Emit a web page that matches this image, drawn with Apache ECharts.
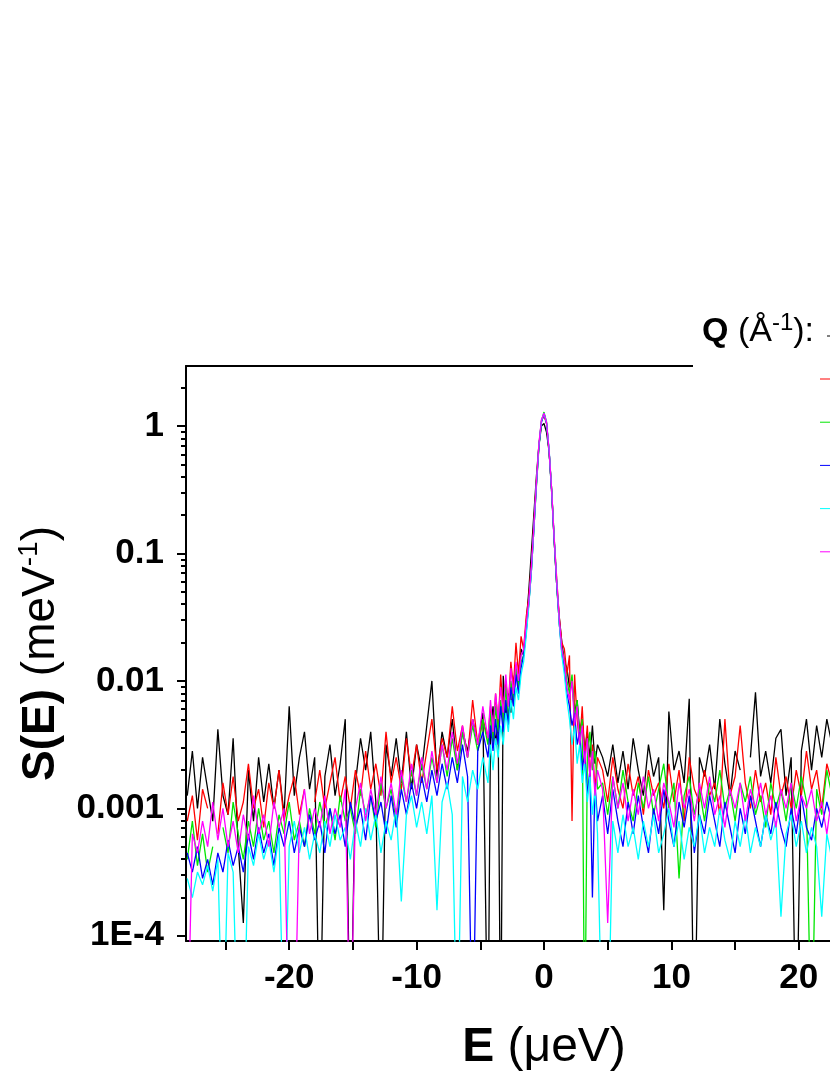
<!DOCTYPE html>
<html><head><meta charset="utf-8">
<script src="https://cdn.jsdelivr.net/npm/echarts@6/dist/echarts.min.js"></script>
<style>html,body{margin:0;padding:0;background:#fff}#c{width:830px;height:1075px}</style>
</head><body><div id="c"></div>
<script>
// Energy transfer E (µeV)
const E = [
-28,-27.6,-27.2,-26.8,-26.4,-26,-25.6,-25.2,-24.8,-24.4,
-24,-23.6,-23.2,-22.8,-22.4,-22,-21.6,-21.2,-20.8,-20.4,
-20,-19.6,-19.2,-18.8,-18.4,-18,-17.6,-17.2,-16.8,-16.4,
-16,-15.6,-15.2,-14.8,-14.4,-14,-13.6,-13.2,-12.8,-12.4,
-12,-11.6,-11.2,-10.8,-10.4,-10,-9.6,-9.2,-8.8,-8.4,
-8,-7.6,-7.2,-6.8,-6.4,-6,-5.6,-5.2,-4.8,-4.4,
-4.2,-4,-3.8,-3.6,-3.4,-3.2,-3,-2.8,-2.6,-2.4,
-2.2,-2,-1.8,-1.6,-1.4,-1.2,-1,-0.8,-0.6,-0.4,
-0.2,0,0.2,0.4,0.6,0.8,1,1.2,1.4,1.6,
1.8,2,2.2,2.4,2.6,2.8,3,3.2,3.4,3.6,
3.8,4,4.2,
4.6,5,5.4,5.8,6.2,6.6,7,7.4,7.8,8.2,
8.6,9,9.4,9.8,10.2,10.6,11,11.4,11.8,12.2,
12.6,13,13.4,13.8,14.2,14.6,15,15.4,15.8,16.2,
16.6,17,17.4,17.8,18.2,18.6,19,19.4,19.8,20.2,
20.6,21,21.4,21.8,22.2,22.6
];

// log10 of S(E) (meV^-1); null = gap, -5 = drop below the axis
const lgBlack = [
-2.9,-2.55,-3.0,-2.6,-2.85,-3.1,-2.38,-2.9,-3.05,-2.45,
-3.3,-3.9,-2.7,-3.1,-2.6,-2.95,-2.65,-3.0,-2.7,-3.05,
-2.2,-2.9,-2.6,-2.4,-2.85,-2.6,-5,-2.75,-2.5,-2.9,
-2.65,-2.3,-5,-2.8,-2.45,-2.7,-2.4,-2.95,-5,-2.5,
-2.75,-2.45,-2.8,-2.4,-2.85,-2.5,-2.7,-2.35,-2.0,-2.75,
-2.4,-2.6,-2.3,-2.7,-2.4,-2.55,-2.3,-2.5,-2.25,-5,
-2.4,-2.2,-2.5,-2.3,-5,-1.96,-2.3,-2.1,-2.25,-2.0,
-1.9,-2.05,-1.75,-1.8,-1.55,-1.3,-1.0,-0.7,-0.4,-0.15,
0.0,0.02,-0.05,-0.2,-0.5,-0.9,-1.25,-1.5,-1.7,-1.85,
-1.9,-2.05,-2.0,-2.25,-2.15,-2.4,-2.3,-2.55,-2.4,-2.6,
-2.35,-2.65,-2.5,
-2.6,-2.75,-2.5,-2.8,-2.55,-2.85,-2.45,-2.7,-2.9,-2.5,
-2.75,-2.6,-3.8,-2.24,-2.7,-2.55,-2.8,-2.14,-5,-2.6,
-2.75,-2.5,-2.85,-2.3,-2.65,-2.9,-2.55,-2.7,null,-2.6,
-2.09,-2.75,-2.55,-2.8,-2.45,-2.38,-2.9,-2.6,-5,-2.55,
-2.3,-2.7,-2.35,-2.6,-2.3,-2.5
];
const lgRed = [
-3.1,-2.9,-3.25,-2.85,-3.0,null,-3.2,-2.8,-3.05,-2.75,
-3.1,-2.95,-2.65,-3.0,-2.85,-3.15,-2.8,-3.0,-2.7,-3.1,
-2.9,-2.75,-3.05,-2.85,null,-2.95,-2.7,-3.0,-2.8,-2.6,
-2.95,-2.75,-3.0,-2.7,-2.9,-2.55,-2.85,-2.65,-2.9,-2.4,
-2.8,-2.6,-2.85,-2.45,-2.75,-2.5,-2.8,-2.55,-2.3,-2.7,
-2.45,-2.6,-2.2,-2.55,-2.35,-2.6,-2.15,-2.5,-2.3,-2.45,
-2.2,-2.45,-2.1,-2.35,-1.95,-2.25,-2.0,-2.2,-1.85,-2.05,
-1.7,-1.95,-1.65,-1.75,-1.5,-1.35,-1.1,-0.78,-0.45,-0.15,
0.04,0.08,0.02,-0.2,-0.5,-0.88,-1.2,-1.5,-1.7,-1.75,
-1.95,-1.8,-3.1,-1.95,-2.3,-2.5,-2.2,-2.6,-2.35,-2.75,
-2.5,-2.85,-2.6,
-2.7,-2.95,-2.6,-2.85,-3.0,-2.65,-2.9,-2.75,-3.05,-2.7,
-2.9,-2.8,-3.0,-2.65,-2.95,-2.7,-3.1,-2.6,-2.85,-2.95,
-2.7,-2.9,-2.8,-3.05,-2.3,-2.9,-2.75,-2.35,-2.8,-3.0,
-2.7,-2.95,-2.8,-3.05,-2.6,-2.9,-2.75,-3.0,-2.7,-2.9,
-2.55,-2.85,-2.7,-3.0,-2.65,-2.8
];
const lgGreen = [
-3.4,-3.1,-3.45,-3.2,-3.5,-3.3,null,-3.15,-3.35,-2.95,
-3.2,-3.4,-3.1,-3.3,-3.0,-3.25,-3.1,-3.35,-3.05,-3.2,
-2.95,-3.25,-3.1,-3.3,-3.0,-3.2,-2.95,-3.15,-3.0,-3.25,
-2.9,-3.1,-3.0,-3.2,-2.85,-3.05,-2.9,-3.15,-2.8,-3.0,
-2.85,-3.1,-2.75,-2.95,-2.7,-2.9,-2.65,-2.85,-2.6,-2.8,
-2.5,-2.75,-2.45,-2.7,-2.4,-2.6,-2.35,-2.55,-2.3,-2.5,
-2.25,-2.5,-2.2,-2.4,-2.15,-2.35,-2.05,-2.3,-2.0,-2.15,
-1.9,-2.05,-1.85,-1.8,-1.6,-1.4,-1.15,-0.82,-0.48,-0.17,
0.04,0.11,0.03,-0.2,-0.52,-0.9,-1.25,-1.55,-1.75,-1.85,
-2.0,-2.1,-1.95,-2.3,-2.15,-2.45,-2.3,-5,-2.6,-2.4,
-2.7,-2.55,-2.85,
-2.8,-3.05,-2.75,-3.0,-2.7,-2.95,-3.1,-2.8,-3.0,-2.75,
-3.05,-2.85,-2.65,-3.0,-2.8,-3.55,-2.9,-2.75,-3.05,-2.85,
-3.1,-2.8,-2.95,-2.7,-3.0,-2.85,-3.1,-2.8,-2.95,-2.75,
-3.05,-2.9,-3.15,-2.8,-3.0,-2.85,-3.1,-2.8,-3.0,-2.75,
-2.95,-5,-2.85,-3.05,-2.7,-2.9
];
const lgBlue = [
-3.35,-3.5,-3.3,-3.55,-3.4,-3.6,-3.35,-3.5,-3.25,-3.45,
-3.3,-3.5,-3.2,-3.4,-3.15,-3.35,-3.2,-3.45,-3.15,-3.3,
-3.1,-3.35,-3.15,-3.3,-3.05,-3.25,-3.1,-3.35,-3.0,-3.2,
-3.05,-3.3,-2.95,-3.15,-3.0,-3.25,-2.9,-3.1,-2.95,-3.2,
-2.9,-3.15,-2.85,-3.05,-2.8,-3.0,-2.75,-2.95,-2.7,-2.9,
-2.65,-2.85,-2.6,-2.8,-2.5,-2.75,-5,-2.55,-2.4,-2.6,
-2.35,-2.55,-2.3,-2.5,-2.2,-2.4,-2.15,-2.35,-2.05,-2.2,
-1.95,-2.1,-1.9,-1.8,-1.62,-1.4,-1.15,-0.82,-0.47,-0.16,
0.03,0.1,0.02,-0.2,-0.52,-0.9,-1.25,-1.55,-1.78,-1.9,
-2.1,-2.2,-2.35,-2.25,-2.5,-2.4,-2.7,-2.55,-2.9,-2.7,
-3.7,-2.8,-3.1,
-2.9,-3.2,-2.85,-3.1,-3.3,-2.95,-3.2,-2.9,-3.15,-3.35,
-3.0,-3.2,-2.85,-3.1,-3.3,-2.95,-3.15,-2.9,-3.35,-3.05,
-3.2,-2.9,-3.1,-3.3,-2.95,-3.15,-3.35,-3.0,-3.2,-2.9,
-3.1,-3.3,-3.05,-3.2,-2.95,-3.15,-3.3,-3.0,-3.2,-2.9,
-3.15,-3.25,-3.0,-3.15,-2.95,-3.1
];
const lgCyan = [
-3.55,-3.7,-3.5,-3.6,-3.45,-3.65,-3.4,-5,-3.35,-3.5,
-5,-5,-3.3,-3.45,-3.2,-3.4,-3.25,-3.5,-3.2,-5,
-3.3,-3.1,-3.35,-3.15,-3.4,-3.2,-3.35,-3.1,-3.3,-3.05,
-3.25,-3.15,-3.4,-3.1,-3.3,-3.0,-3.25,-3.05,-3.35,-3.1,
-3.25,-3.0,-3.73,-3.05,-2.9,-3.15,-2.95,-3.2,-2.9,-3.8,
-2.95,-2.8,-3.05,-5,-2.75,-2.95,-2.7,-2.85,-2.6,-2.8,
-2.5,-2.7,-2.45,-2.6,-2.35,-2.5,-2.25,-2.4,-2.15,-2.3,
-2.05,-2.15,-1.95,-1.85,-1.65,-1.42,-1.15,-0.82,-0.46,-0.15,
0.04,0.1,0.03,-0.18,-0.5,-0.88,-1.22,-1.55,-1.8,-1.95,
-2.15,-2.3,-2.5,-2.35,-2.65,-2.5,-2.8,-2.65,-2.95,-2.75,
-3.05,-2.85,-3.2,
-5,-5,-3.1,-3.35,-3.05,-3.3,-3.15,-3.4,-3.1,-3.3,
-3.05,-3.35,-3.2,-3.0,-3.3,-3.1,-3.4,-3.15,-3.3,-3.05,
-3.35,-3.15,-3.3,-3.0,-3.25,-3.4,-3.1,-3.3,-3.05,-3.35,
-3.15,-3.3,-3.05,-3.25,-3.1,-3.85,-3.2,-3.05,-3.3,-3.1,
-3.35,-3.15,-3.3,-3.85,-3.2,-3.4
];
const lgMagenta = [
-5,-3.2,-3.35,-3.1,-3.3,-2.95,-3.25,-3.0,-3.3,-3.1,
-3.35,-3.05,-3.25,-2.9,-3.2,-3.05,-3.3,-2.95,-3.15,-3.0,
-5,-5,-3.1,-2.85,-3.2,-3.0,-3.15,-2.9,-3.2,-3.0,
-3.15,-2.85,-5,-3.0,-2.8,-3.1,-2.85,-3.05,-2.75,-3.0,
-2.8,-3.05,-2.7,-2.95,-2.65,-2.9,-2.6,-2.85,-2.55,-2.8,
-2.5,-2.7,-2.4,-2.65,-2.35,-2.6,-2.3,-2.5,-2.2,-2.45,
-2.15,-2.4,-2.1,-2.3,-2.05,-2.25,-1.95,-2.2,-1.9,-2.1,
-1.85,-2.0,-1.8,-1.75,-1.55,-1.38,-1.12,-0.8,-0.45,-0.14,
0.05,0.1,0.03,-0.19,-0.5,-0.88,-1.22,-1.52,-1.75,-1.85,
-2.05,-2.15,-2.0,-2.35,-2.2,-2.5,-2.35,-2.65,-2.45,-2.75,
-2.55,-2.9,-2.7,
-2.85,-3.9,-2.75,-3.0,-2.8,-3.1,-2.85,-3.05,-2.75,-3.0,
-2.85,-3.1,-2.8,-2.95,-3.15,-2.8,-3.0,-2.85,-3.1,-2.8,
-3.0,-2.75,-3.05,-2.9,-3.15,-2.85,-3.0,-2.8,-3.1,-2.85,
-3.0,-2.8,-3.05,-2.9,-3.15,-2.85,-3.0,-2.8,-3.1,-2.9,
-3.0,-2.85,-3.1,-2.95,-3.2,-2.9
];

const qNames = ['0.25','0.45','0.65','0.85','1.05','1.25'];
const seriesColors = ['#000000','#ff0000','#00e600','#0000ff','#00ffff','#ff00ff'];
const allLogs = [lgBlack, lgRed, lgGreen, lgBlue, lgCyan, lgMagenta];

const xTickValues = [-25,-20,-15,-10,-5,0,5,10,15,20,25];
const xLabelValues = [-20,-10,0,10,20];
const yMajorValues = [1e-4,1e-3,1e-2,1e-1,1];
const yMinorValues = [2e-4,3e-4,4e-4,5e-4,6e-4,7e-4,8e-4,9e-4,
  2e-3,3e-3,4e-3,5e-3,6e-3,7e-3,8e-3,9e-3,
  0.02,0.03,0.04,0.05,0.06,0.07,0.08,0.09,
  0.2,0.3,0.4,0.5,0.6,0.7,0.8,0.9,2];
const yLabelText = {'0':'1','-1':'0.1','-2':'0.01','-3':'0.001','-4':'1E-4'};

const FF = '"Liberation Sans", Arial, Helvetica, sans-serif';

function toData(lg) {
  return E.map((e, i) => (lg[i] === null ? [e, '-'] : [e, Math.pow(10, lg[i])]));
}

const series = allLogs.map((lg, k) => ({
  name: qNames[k],
  type: 'line',
  data: toData(lg),
  showSymbol: false,
  symbol: 'none',
  connectNulls: false,
  clip: true,
  color: seriesColors[k],
  lineStyle: { width: 1.3, color: seriesColors[k] },
  z: 2 + k * 0.01
}));

const axisLineStyle = { color: '#000', width: 2 };
const chart = echarts.init(document.getElementById('c'), null, { renderer: 'canvas' });
chart.setOption({
  animation: false,
  backgroundColor: '#fff',
  textStyle: { fontFamily: FF },
  grid: { left: 186, top: 366, width: 716, height: 575, containLabel: false, outerBoundsMode: 'none' },
  xAxis: [{
    type: 'value', min: -28.1, max: 28.1, position: 'bottom',
    axisLine: { show: true, onZero: false, lineStyle: axisLineStyle },
    axisTick: { show: true, inside: false, length: 9, customValues: xTickValues, lineStyle: axisLineStyle },
    axisLabel: { show: true, customValues: xLabelValues, margin: 20, fontSize: 35, fontWeight: 'bold', color: '#000', fontFamily: FF },
    splitLine: { show: false },
    name: '{b|E}{n| (\u03bceV)}', nameLocation: 'middle', nameGap: 80,
    nameTextStyle: { fontFamily: FF, color: '#000', rich: {
      b: { fontSize: 48, fontWeight: 'bold', fontFamily: FF, color: '#000', lineHeight: 54 },
      n: { fontSize: 48, fontFamily: FF, color: '#000', lineHeight: 54 }
    } }
  }, {
    type: 'value', min: -28.1, max: 28.1, position: 'top',
    axisLine: { show: true, onZero: false, lineStyle: axisLineStyle },
    axisTick: { show: false }, axisLabel: { show: false }, splitLine: { show: false }
  }],
  yAxis: [{
    type: 'log', logBase: 10, min: 9.1e-5, max: 2.96, position: 'left',
    axisLine: { show: true, onZero: false, lineStyle: axisLineStyle },
    axisTick: { show: true, inside: false, length: 9, customValues: yMajorValues, lineStyle: axisLineStyle },
    axisLabel: { show: true, customValues: yMajorValues, margin: 22, fontSize: 35, fontWeight: 'bold', color: '#000', fontFamily: FF,
      formatter: v => yLabelText[String(Math.round(Math.log10(v)))] || '' },
    splitLine: { show: false }, minorTick: { show: false },
    name: '{b|S(E)}{n| (meV}{s|-1}{n|)}', nameLocation: 'middle', nameRotate: 90, nameGap: 119,
    nameTextStyle: { fontFamily: FF, color: '#000', rich: {
      b: { fontSize: 46, fontWeight: 'bold', fontFamily: FF, color: '#000', lineHeight: 52 },
      n: { fontSize: 46, fontFamily: FF, color: '#000', lineHeight: 52 },
      s: { fontSize: 28, fontFamily: FF, color: '#000', lineHeight: 30, verticalAlign: 'top' }
    } }
  }, {
    type: 'log', logBase: 10, min: 9.1e-5, max: 2.96, position: 'left', offset: 0,
    axisLine: { show: false, onZero: false },
    axisTick: { show: true, inside: false, length: 5, customValues: yMinorValues, lineStyle: axisLineStyle },
    axisLabel: { show: false }, splitLine: { show: false }
  }],
  legend: [{
    data: [qNames[0]], orient: 'vertical', left: 822, top: 316, z: 100,
    icon: 'rect', itemWidth: 16, itemHeight: 1, itemGap: 13,
    textStyle: { fontSize: 28, lineHeight: 30, color: '#000', fontFamily: FF }, selectedMode: false
  }, {
    data: qNames.slice(1), orient: 'vertical', left: 815, top: 359, z: 100,
    icon: 'rect', itemWidth: 16, itemHeight: 1, itemGap: 13.2,
    textStyle: { fontSize: 28, lineHeight: 30, color: '#000', fontFamily: FF }, selectedMode: false
  }],
  graphic: [{
    type: 'rect', left: 693, top: 300, z: 50,
    shape: { width: 140, height: 270 }, style: { fill: '#fff' }
  }, {
    type: 'text', left: 702, top: 311, z: 60,
    style: {
      text: '{b|Q}{n| (\u00c5}{s|-1}{n|):}',
      fontFamily: FF,
      rich: {
        b: { fontSize: 34, fontWeight: 'bold', fontFamily: FF, fill: '#000', lineHeight: 42 },
        n: { fontSize: 34, fontFamily: FF, fill: '#000', lineHeight: 42 },
        s: { fontSize: 24, fontFamily: FF, fill: '#000', lineHeight: 26, verticalAlign: 'top' }
      }
    }
  }],
  series: series
});
</script>
</body></html>
